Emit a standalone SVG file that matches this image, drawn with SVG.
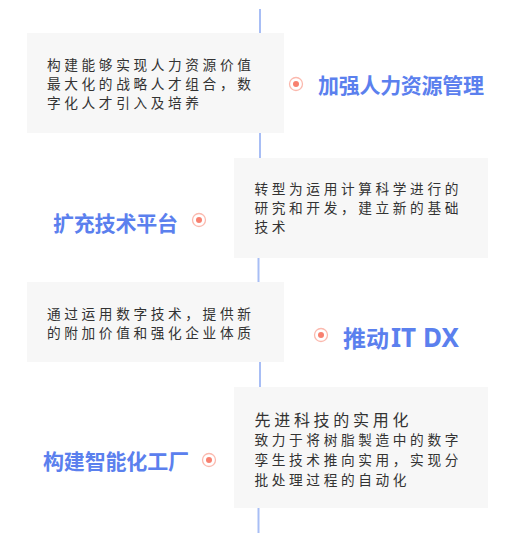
<svg xmlns="http://www.w3.org/2000/svg" width="511" height="541" viewBox="0 0 511 541">
<style>
.box{fill:#f7f7f7}
.body{font-family:"Noto Sans CJK SC","Noto Sans",sans-serif;font-size:13.7px;letter-spacing:3.6px;fill:#333333}
.head{font-family:"Noto Sans CJK SC","Noto Sans",sans-serif;font-size:16px;letter-spacing:3.7px;fill:#333333}
.title{font-family:"Noto Sans CJK SC","Noto Sans",sans-serif;font-size:21px;font-weight:bold;fill:#5b80ee}
.latin{font-family:"Noto Sans","Liberation Sans",sans-serif;font-size:26px}
.ring{fill:#ffffff;stroke:#fbb9ae;stroke-width:1.3}
.dot{fill:#f8806f}
.seg{stroke:#a8bef5;stroke-width:2}
</style>
<rect width="511" height="541" fill="#ffffff"/>
<g id="connectors">
<line class="seg" x1="260" y1="9" x2="260" y2="33"/>
<line class="seg" x1="260" y1="133" x2="260" y2="158"/>
<line class="seg" x1="258.5" y1="258" x2="258.5" y2="282"/>
<line class="seg" x1="260" y1="362" x2="260" y2="387"/>
<line class="seg" x1="258.5" y1="508" x2="258.5" y2="533"/>
</g>
<g id="node1">
<rect class="box" x="27" y="33" width="257" height="100"/>
<text class="body" x="47" y="70">构建能够实现人力资源价值</text>
<text class="body" x="47" y="89">最大化的战略人才组合，数</text>
<text class="body" x="47" y="108">字化人才引入及培养</text>
<circle class="ring" cx="296" cy="84" r="6.5"/>
<circle class="dot" cx="296" cy="84" r="3"/>
<text class="title" x="318" y="92.5" textLength="166" lengthAdjust="spacing">加强人力资源管理</text>
</g>
<g id="node2">
<rect class="box" x="234" y="158" width="254" height="100"/>
<text class="body" x="254.5" y="194">转型为运用计算科学进行的</text>
<text class="body" x="254.5" y="213">研究和开发，建立新的基础</text>
<text class="body" x="254.5" y="232">技术</text>
<circle class="ring" cx="199" cy="220" r="6.5"/>
<circle class="dot" cx="199" cy="220" r="3"/>
<text class="title" x="53" y="230.5" textLength="125" lengthAdjust="spacing">扩充技术平台</text>
</g>
<g id="node3">
<rect class="box" x="27" y="282" width="257" height="80"/>
<text class="body" x="47" y="319">通过运用数字技术，提供新</text>
<text class="body" x="47" y="338">的附加价值和强化企业体质</text>
<circle class="ring" cx="321" cy="335" r="6.5"/>
<circle class="dot" cx="321" cy="335" r="3"/>
<text class="title" x="343" y="346.5" style="font-size:23px">推动<tspan class="latin" dx="2">IT DX</tspan></text>
</g>
<g id="node4">
<rect class="box" x="234" y="387" width="254" height="121"/>
<text class="head" x="254.5" y="426">先进科技的实用化</text>
<text class="body" x="254.5" y="445">致力于将树脂製造中的数字</text>
<text class="body" x="254.5" y="465">孪生技术推向实用，实现分</text>
<text class="body" x="254.5" y="485">批处理过程的自动化</text>
<circle class="ring" cx="209" cy="460" r="6.5"/>
<circle class="dot" cx="209" cy="460" r="3"/>
<text class="title" x="43" y="468.5" textLength="146" lengthAdjust="spacing">构建智能化工厂</text>
</g>
</svg>
